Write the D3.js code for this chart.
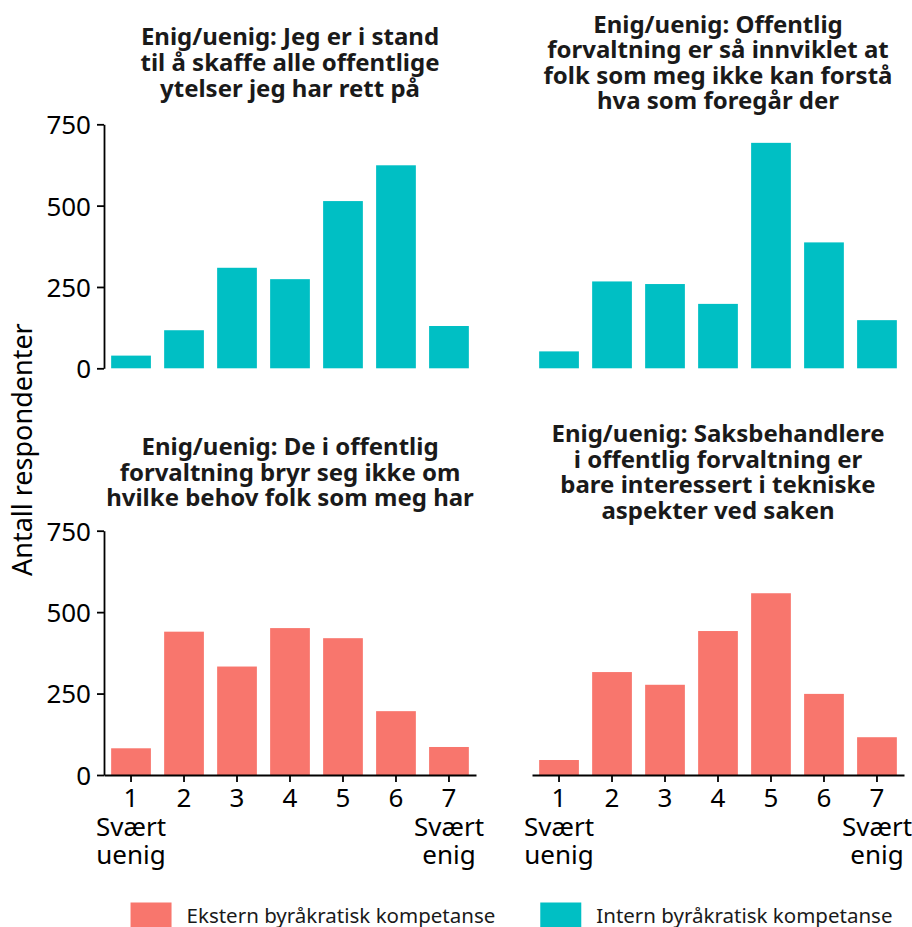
<!DOCTYPE html>
<html>
<head>
<meta charset="utf-8">
<script src="https://cdn.jsdelivr.net/npm/d3@7"></script>
<style>
body{margin:0;background:#fff;}
svg{display:block;font-family:"Noto Sans",sans-serif;}
</style>
</head>
<body>
<div id="chart"></div>
<script>
// verdier lest av figuren
var categories = ['1','2','3','4','5','6','7'];
var tickLabels = ['1\nSvært\nuenig','2','3','4','5','6','7\nSvært\nenig'];
var yTicks = [0,250,500,750];

var internStand = [39,117,309,274,514,624,130];
var internInnviklet = [52,267,259,198,693,387,148];
var eksternBehov = [82,440,333,451,420,196,86];
var eksternTekniske = [46,316,277,442,558,249,116];

var titleStand = ['Enig/uenig: Jeg er i stand','til å skaffe alle offentlige','ytelser jeg har rett på'];
var titleInnviklet = ['Enig/uenig: Offentlig','forvaltning er så innviklet at','folk som meg ikke kan forstå','hva som foregår der'];
var titleBehov = ['Enig/uenig: De i offentlig','forvaltning bryr seg ikke om','hvilke behov folk som meg har'];
var titleTekniske = ['Enig/uenig: Saksbehandlere','i offentlig forvaltning er','bare interessert i tekniske','aspekter ved saken'];

var groups = ['Ekstern byråkratisk kompetanse','Intern byråkratisk kompetanse'];
var colors = ['#F8766D','#00BFC4'];

var width = 912, height = 927;
var cols = [[104,476],[532,904]];
var rows = [[124.3,368.3],[530.7,775]];
var titleMid = [71,480.5];
var lineH = 25.6;

var panels = [
    {values:internStand, title:titleStand, group:1, col:0, row:0},
    {values:internInnviklet, title:titleInnviklet, group:1, col:1, row:0},
    {values:eksternBehov, title:titleBehov, group:0, col:0, row:1},
    {values:eksternTekniske, title:titleTekniske, group:0, col:1, row:1}
];

var svg = d3.select('#chart').append('svg')
    .attr('width',width).attr('height',height);

panels.forEach(function(p){
    var xs = d3.scaleBand().domain(categories).range(cols[p.col])
        .paddingInner(0.25).paddingOuter(0.135);
    var ys = d3.scaleLinear().domain([0,750]).range([rows[p.row][1],rows[p.row][0]]);
    var g = svg.append('g');

    g.selectAll('rect.bar').data(p.values).enter().append('rect')
        .attr('class','bar')
        .attr('x',function(d,i){return xs(categories[i]);})
        .attr('width',xs.bandwidth())
        .attr('y',function(d){return ys(d);})
        .attr('height',function(d){return ys(0)-ys(d);})
        .attr('fill',colors[p.group]);

    // tittel, sentrert over panelet
    var cx = (cols[p.col][0]+cols[p.col][1])/2;
    var n = p.title.length;
    var t = g.append('text')
        .attr('text-anchor','middle')
        .attr('font-size','24px')
        .attr('font-weight','bold')
        .attr('fill','#1a1a1a');
    p.title.forEach(function(line,i){
        t.append('tspan').attr('x',cx)
            .attr('y',titleMid[p.row] + (i-(n-1)/2)*lineH)
            .text(line);
    });

    if(p.col===0){
        var ay = g.append('g')
            .attr('transform','translate('+cols[0][0]+',0)')
            .call(d3.axisLeft(ys).tickValues(yTicks).tickSize(7).tickPadding(6).tickSizeOuter(0));
        ay.select('.domain').attr('stroke','#000').attr('stroke-width',1.8);
        ay.selectAll('.tick line').attr('stroke','#000').attr('stroke-width',1.8);
        ay.selectAll('.tick text').attr('font-size','26px').attr('font-family','"Noto Sans",sans-serif')
            .attr('fill','#000').attr('dy','0.36em');
    }

    if(p.row===1){
        var ax = g.append('g')
            .attr('transform','translate(0,'+rows[1][1]+')')
            .call(d3.axisBottom(xs).tickSize(7).tickSizeOuter(0));
        ax.select('.domain').attr('stroke','#000').attr('stroke-width',1.8);
        ax.selectAll('.tick line').attr('stroke','#000').attr('stroke-width',1.8);
        ax.selectAll('.tick text').each(function(d,i){
            var el = d3.select(this).text('').attr('dy',null).attr('y',null)
                .attr('font-size','26px').attr('font-family','"Noto Sans",sans-serif').attr('fill','#000');
            tickLabels[i].split('\n').forEach(function(s,j){
                el.append('tspan').attr('x',0).attr('y',32+j*28.5).text(s);
            });
        });
    }
});

// felles y-akse tittel
svg.append('text')
    .attr('transform','translate(32,'+((rows[0][0]+rows[1][1])/2)+') rotate(-90)')
    .attr('text-anchor','middle')
    .attr('font-size','27px')
    .attr('fill','#000')
    .text('Antall respondenter');

// legende
var legend = svg.append('g');
var lx = 0;
groups.forEach(function(name,i){
    var item = legend.append('g').attr('transform','translate('+lx+',0)');
    item.append('rect').attr('x',0).attr('y',902.5).attr('width',41).attr('height',41)
        .attr('fill',colors[i]);
    var tx = item.append('text').attr('x',56).attr('y',923)
        .attr('font-size','20.5px').attr('fill','#1a1a1a').text(name);
    lx += 56 + tx.node().getComputedTextLength() + 45;
});
var lw = lx - 45;
legend.attr('transform','translate('+(511.5-lw/2)+',0)');
</script>
</body>
</html>
